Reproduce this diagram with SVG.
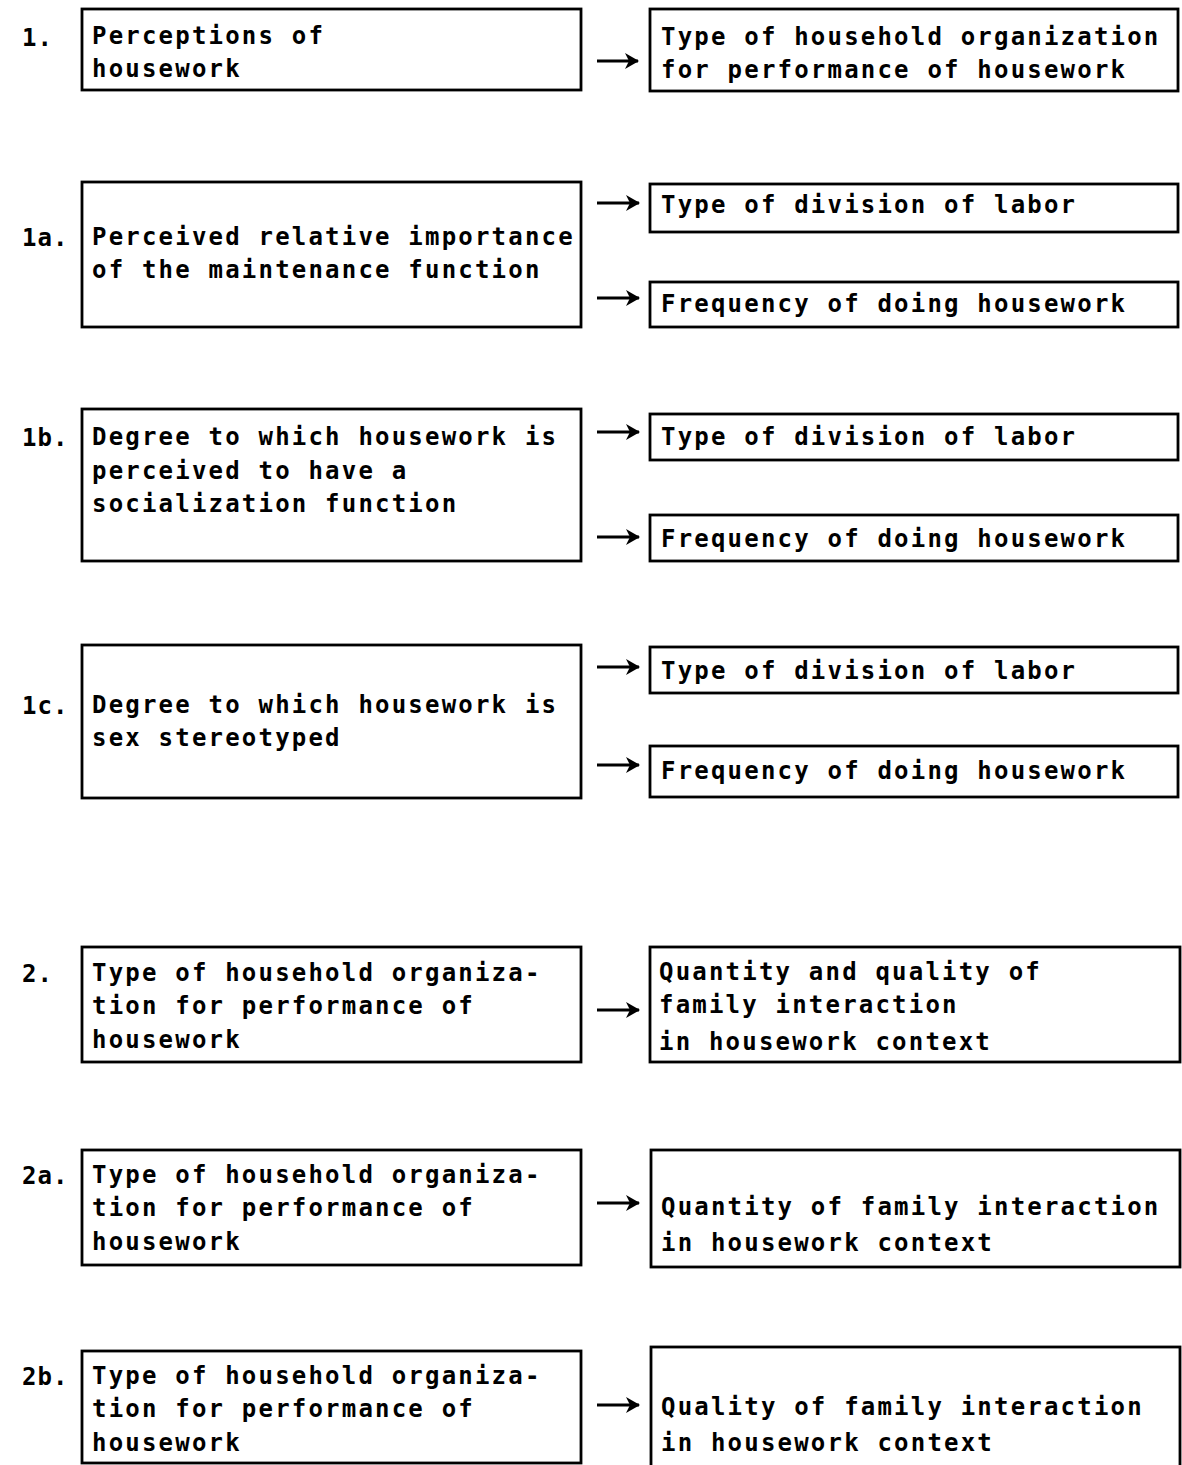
<svg xmlns="http://www.w3.org/2000/svg" width="1182" height="1465" viewBox="0 0 1182 1465">
<style>
.box{fill:none;stroke:#000;stroke-width:2.8}
.t{font-family:"DejaVu Sans Mono","Liberation Mono",monospace;font-size:24px;font-weight:bold;letter-spacing:2.2px;fill:#000}
.lbl{font-family:"DejaVu Sans Mono","Liberation Mono",monospace;font-size:24px;font-weight:bold;letter-spacing:1px;fill:#000}
.arr{stroke:#000;stroke-width:3.2;fill:none;marker-end:url(#ah)}
</style>
<defs>
<marker id="ah" markerUnits="userSpaceOnUse" markerWidth="16" markerHeight="18" refX="14" refY="9" orient="auto">
<path d="M1,1 L15,9 L1,17 L5,9 Z" fill="#000"/>
</marker>
</defs>
<rect width="1182" height="1465" fill="#fff"/>
<g id="labels">
<text class="lbl" x="22" y="46">1.</text>
<text class="lbl" x="22" y="246">1a.</text>
<text class="lbl" x="22" y="446">1b.</text>
<text class="lbl" x="22" y="714">1c.</text>
<text class="lbl" x="22" y="982">2.</text>
<text class="lbl" x="22" y="1184">2a.</text>
<text class="lbl" x="22" y="1385">2b.</text>
</g>
<g id="n1">
<rect class="box" x="82" y="9" width="499" height="81"/>
<text class="t" x="92" y="44">Perceptions of</text>
<text class="t" x="92" y="77">housework</text>
</g>
<g id="n1r">
<rect class="box" x="650" y="9" width="528" height="82"/>
<text class="t" x="661" y="45">Type of household organization</text>
<text class="t" x="661" y="78">for performance of housework</text>
</g>
<g id="n1a">
<rect class="box" x="82" y="182" width="499" height="145"/>
<text class="t" x="92" y="245">Perceived relative importance</text>
<text class="t" x="92" y="278">of the maintenance function</text>
</g>
<g id="n1a1">
<rect class="box" x="650" y="184" width="528" height="48"/>
<text class="t" x="661" y="213">Type of division of labor</text>
</g>
<g id="n1a2">
<rect class="box" x="650" y="282" width="528" height="45"/>
<text class="t" x="661" y="312">Frequency of doing housework</text>
</g>
<g id="n1b">
<rect class="box" x="82" y="409" width="499" height="152"/>
<text class="t" x="92" y="445">Degree to which housework is</text>
<text class="t" x="92" y="479">perceived to have a</text>
<text class="t" x="92" y="512">socialization function</text>
</g>
<g id="n1b1">
<rect class="box" x="650" y="414" width="528" height="46"/>
<text class="t" x="661" y="445">Type of division of labor</text>
</g>
<g id="n1b2">
<rect class="box" x="650" y="515" width="528" height="46"/>
<text class="t" x="661" y="547">Frequency of doing housework</text>
</g>
<g id="n1c">
<rect class="box" x="82" y="645" width="499" height="153"/>
<text class="t" x="92" y="713">Degree to which housework is</text>
<text class="t" x="92" y="746">sex stereotyped</text>
</g>
<g id="n1c1">
<rect class="box" x="650" y="647" width="528" height="46"/>
<text class="t" x="661" y="679">Type of division of labor</text>
</g>
<g id="n1c2">
<rect class="box" x="650" y="746" width="528" height="51"/>
<text class="t" x="661" y="779">Frequency of doing housework</text>
</g>
<g id="n2">
<rect class="box" x="82" y="947" width="499" height="115"/>
<text class="t" x="92" y="981">Type of household organiza-</text>
<text class="t" x="92" y="1014">tion for performance of</text>
<text class="t" x="92" y="1048">housework</text>
</g>
<g id="n2r">
<rect class="box" x="650" y="947" width="530" height="115"/>
<text class="t" x="659" y="980">Quantity and quality of</text>
<text class="t" x="659" y="1013">family interaction</text>
<text class="t" x="659" y="1050">in housework context</text>
</g>
<g id="n2a">
<rect class="box" x="82" y="1150" width="499" height="115"/>
<text class="t" x="92" y="1183">Type of household organiza-</text>
<text class="t" x="92" y="1216">tion for performance of</text>
<text class="t" x="92" y="1250">housework</text>
</g>
<g id="n2ar">
<rect class="box" x="651" y="1150" width="529" height="117"/>
<text class="t" x="661" y="1215">Quantity of family interaction</text>
<text class="t" x="661" y="1251">in housework context</text>
</g>
<g id="n2b">
<rect class="box" x="82" y="1351" width="499" height="112"/>
<text class="t" x="92" y="1384">Type of household organiza-</text>
<text class="t" x="92" y="1417">tion for performance of</text>
<text class="t" x="92" y="1451">housework</text>
</g>
<g id="n2br">
<rect class="box" x="651" y="1347" width="529" height="130"/>
<text class="t" x="661" y="1415">Quality of family interaction</text>
<text class="t" x="661" y="1451">in housework context</text>
</g>
<g id="connectors">
<line class="arr" x1="597" y1="61" x2="638" y2="61"/>
<line class="arr" x1="597" y1="203" x2="639" y2="203"/>
<line class="arr" x1="597" y1="298" x2="639" y2="298"/>
<line class="arr" x1="597" y1="432" x2="639" y2="432"/>
<line class="arr" x1="597" y1="537" x2="639" y2="537"/>
<line class="arr" x1="597" y1="667" x2="639" y2="667"/>
<line class="arr" x1="597" y1="765" x2="639" y2="765"/>
<line class="arr" x1="597" y1="1010" x2="639" y2="1010"/>
<line class="arr" x1="597" y1="1203" x2="639" y2="1203"/>
<line class="arr" x1="597" y1="1405" x2="639" y2="1405"/>
</g>
</svg>
